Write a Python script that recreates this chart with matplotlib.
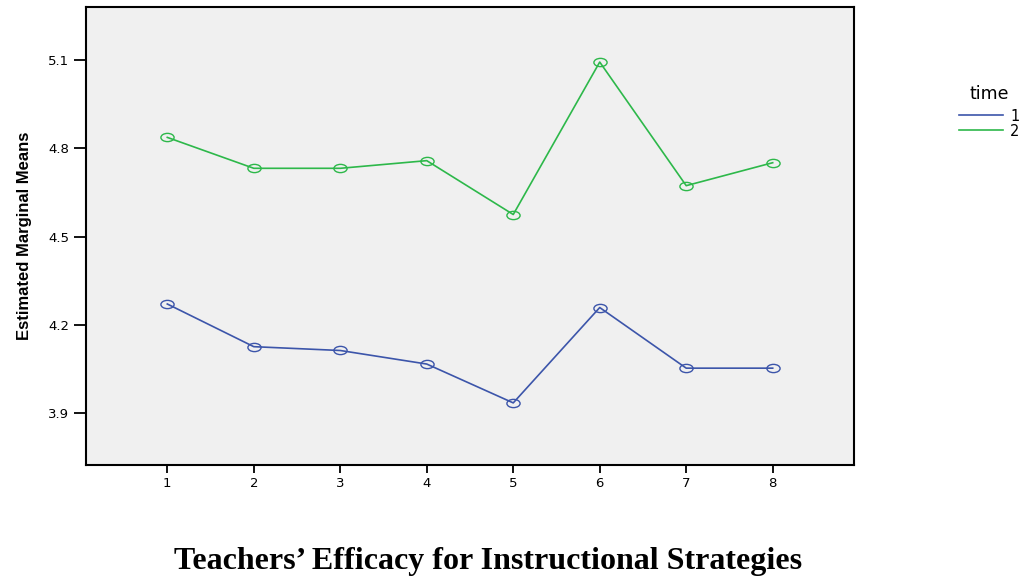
import numpy as np
import matplotlib
matplotlib.use("Agg")
import matplotlib.pyplot as plt
from matplotlib.path import Path
from matplotlib.transforms import Affine2D

# =========================
# Data
# =========================
strategies = [1, 2, 3, 4, 5, 6, 7, 8]
time1_means = [4.271, 4.126, 4.113, 4.067, 3.935, 4.259, 4.053, 4.053]
time2_means = [4.837, 4.732, 4.732, 4.758, 4.575, 5.093, 4.673, 4.751]
y_ticks = [3.9, 4.2, 4.5, 4.8, 5.1]
series_labels = ["1", "2"]

# =========================
# Style
# =========================
blue = "#3C55AA"
green = "#2DB84A"
panel_bg = "#F0F0F0"

# SPSS style open marker: a flat ellipse
ellipse = Path.unit_circle().transformed(Affine2D().scale(1.6, 1.0))

fig = plt.figure(figsize=(10.31, 5.77), dpi=100)
ax = fig.add_axes([86 / 1031, 1 - 465 / 577, (854 - 86) / 1031, (465 - 7) / 577])
ax.set_facecolor(panel_bg)

for vals, col, lab in [(time1_means, blue, series_labels[0]),
                       (time2_means, green, series_labels[1])]:
    ax.plot(strategies, vals, color=col, lw=1.2, label=lab,
            marker=ellipse, markersize=9.5, markerfacecolor="none",
            markeredgecolor=col, markeredgewidth=1.0)

ax.set_xlim(0.06, 8.94)
ax.set_ylim(3.724, 5.28)
ax.set_xticks(strategies)
ax.set_yticks(y_ticks)
ax.set_yticklabels([f"{v:.1f}" for v in y_ticks])

for s in ax.spines.values():
    s.set_linewidth(1.5)
    s.set_color("black")

ax.tick_params(axis="y", direction="out", length=9, width=1.3,
               labelsize=9.5, pad=3)
ax.tick_params(axis="x", direction="out", length=5.5, width=1.3,
               labelsize=9.5, pad=3)
for lbl in ax.get_xticklabels() + ax.get_yticklabels():
    lbl.set_family("DejaVu Sans")

ax.set_ylabel("Estimated Marginal Means", fontsize=12, fontweight="bold",
              family=["Liberation Sans", "DejaVu Sans"], labelpad=12)

# legend to the right of the panel, no frame
leg = fig.legend(loc="upper left", bbox_to_anchor=(959 / 1031, 1 - 85 / 577),
                 frameon=False, title="time", fontsize=10.5,
                 handlelength=3.0, handletextpad=0.5, labelspacing=0.0,
                 borderpad=0, borderaxespad=0)
leg.get_title().set_fontsize(12.5)
leg._legend_box.sep = 4  # a bit of room under the title
for line in leg.get_lines():
    line.set_marker("")

fig.text(488 / 1031, 1 - 562 / 577, "Teachers\u2019 Efficacy for Instructional Strategies",
         ha="center", va="center", fontsize=23, fontweight="bold",
         family=["Liberation Serif", "DejaVu Serif"])

plt.savefig("out.png", dpi=100)
